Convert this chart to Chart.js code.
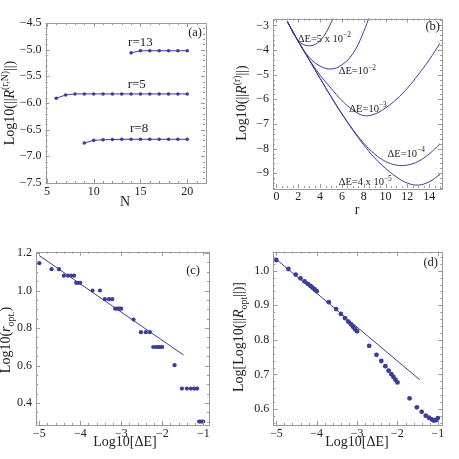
<!DOCTYPE html>
<html>
<head>
<meta charset="utf-8">
<script src="https://cdn.jsdelivr.net/npm/chart.js@4.4.0/dist/chart.umd.min.js"></script>
<style>
  html, body { margin: 0; padding: 0; background: #fff; }
  #wrap { position: relative; width: 459px; height: 459px; }
  canvas { position: absolute; }
</style>
</head>
<body>
<div id="wrap">
  <canvas id="ca" width="229" height="229" style="left:0;top:0"></canvas>
  <canvas id="cb" width="230" height="229" style="left:229px;top:0"></canvas>
  <canvas id="cc" width="229" height="230" style="left:0;top:229px"></canvas>
  <canvas id="cd" width="230" height="230" style="left:229px;top:229px"></canvas>
</div>
<script>
// (a) Log10(||R^(r,N)||) vs N
const nR13 = [14, 15, 16, 17, 18, 19, 20]
const valR13 = [-5.06, -5.02, -5.02, -5.02, -5.02, -5.02, -5.02]
const nR5 = [6, 7, 8, 9, 10, 11, 12, 13, 14, 15, 16, 17, 18, 19, 20]
const valR5 = [-5.91, -5.85, -5.83, -5.83, -5.83, -5.83, -5.83, -5.83, -5.83, -5.83, -5.83, -5.83, -5.83, -5.83, -5.83]
const nR8 = [9, 10, 11, 12, 13, 14, 15, 16, 17, 18, 19, 20]
const valR8 = [-6.75, -6.70, -6.69, -6.685, -6.68, -6.68, -6.68, -6.68, -6.68, -6.68, -6.68, -6.68]

// (b) Log10(||R^(r)||) vs r, one curve per dE
const rVals = [1, 2, 3, 4, 5, 6, 7, 8, 9, 10, 11, 12, 13, 14, 15]
const curve5e2 = [-2.85, -3.62, -3.83, -3.62, -2.9, -1.8]
const curve1e2 = [-2.85, -3.64, -4.3, -4.65, -4.77, -4.6, -4.15, -3.25, -2.0]
const curve1e3 = [-2.85, -3.65, -4.38, -5.02, -5.55, -6.05, -6.43, -6.66, -6.6, -6.35, -6.0, -5.55, -5.0, -4.4, -3.72]
const curve1e4 = [-2.85, -3.65, -4.4, -5.15, -5.88, -6.58, -7.22, -7.78, -8.22, -8.52, -8.67, -8.67, -8.52, -8.22, -7.8]
const curve4e5 = [-2.85, -3.65, -4.4, -5.15, -5.9, -6.6, -7.25, -7.85, -8.38, -8.8, -9.15, -9.4, -9.48, -9.35, -9.05]

// (c), (d) shared Log10[dE] grid
const logDE = [-5, -4.7, -4.52, -4.4, -4.3, -4.22, -4.15, -4.1, -4.05, -4,
  -3.7, -3.52, -3.4, -3.3, -3.22, -3.15, -3.1, -3.05, -3,
  -2.7, -2.52, -2.4, -2.3, -2.22, -2.15, -2.1, -2.05, -2,
  -1.7, -1.52, -1.4, -1.3, -1.22, -1.15, -1.1, -1.05, -1]
const logROpt = [1.146, 1.114, 1.114, 1.079, 1.079, 1.079, 1.079, 1.041, 1.041, 1.041,
  1.0, 1.0, 0.954, 0.954, 0.954, 0.903, 0.903, 0.903, 0.903,
  0.845, 0.778, 0.778, 0.778, 0.699, 0.699, 0.699, 0.699, 0.699,
  0.602, 0.477, 0.477, 0.477, 0.477, 0.477, 0.301, 0.301, 0.301]
const logLogR = [1.031, 1.005, 0.989, 0.978, 0.969, 0.962, 0.956, 0.951, 0.946, 0.941,
  0.909, 0.889, 0.875, 0.863, 0.853, 0.845, 0.838, 0.831, 0.825,
  0.783, 0.757, 0.739, 0.724, 0.711, 0.701, 0.693, 0.685, 0.677,
  0.631, 0.605, 0.592, 0.581, 0.575, 0.570, 0.567, 0.568, 0.574]
const fitCX = [-5, -1.48]
const fitCY = [1.186, 0.656]
const fitDX = [-5, -1.45]
const fitDY = [1.033, 0.685]

const BLUE = '#3d3d99'
const FRAME = '#9a9a9a'
const TEXT = '#222'
const SERIF = '"Liberation Serif", "DejaVu Serif", serif'

const pts = (xs, ys) => ys.map((y, i) => ({ x: xs[i], y }))
const minus = s => String(s).replace('-', '\u2212')

// draws text made of parts, some italic / superscript / subscript
function richText(ctx, parts, x, y, size, align, rotate) {
  ctx.save()
  ctx.translate(x, y)
  if (rotate) ctx.rotate(-Math.PI / 2)
  let total = 0
  const items = parts.map(p => {
    const s = (p.sup || p.sub) ? size * 0.7 : size
    const font = (p.it ? 'italic ' : '') + s + 'px ' + SERIF
    ctx.font = font
    const w = ctx.measureText(p.t).width
    total += w
    return { t: p.t, font, w, dy: p.sup ? -size * 0.42 : (p.sub ? size * 0.28 : 0) }
  })
  let cx = align === 'center' ? -total / 2 : (align === 'right' ? -total : 0)
  ctx.fillStyle = TEXT
  ctx.textBaseline = 'alphabetic'
  ctx.textAlign = 'left'
  for (const it of items) {
    ctx.font = it.font
    ctx.fillText(it.t, cx, it.dy)
    cx += it.w
  }
  ctx.restore()
}

function drawTicks(ctx, scale, minor, major, horizontal, area) {
  const k0 = Math.ceil(scale.min / minor - 1e-6)
  const k1 = Math.floor(scale.max / minor + 1e-6)
  for (let k = k0; k <= k1; k++) {
    const v = k * minor
    const isMajor = Math.abs(v / major - Math.round(v / major)) < 1e-6
    const len = isMajor ? 4 : 2
    const p = Math.round(scale.getPixelForValue(v)) + 0.5
    ctx.beginPath()
    if (horizontal) {
      ctx.moveTo(p, area.bottom); ctx.lineTo(p, area.bottom - len)
      ctx.moveTo(p, area.top); ctx.lineTo(p, area.top + len)
    } else {
      ctx.moveTo(area.left, p); ctx.lineTo(area.left + len, p)
      ctx.moveTo(area.right, p); ctx.lineTo(area.right - len, p)
    }
    ctx.stroke()
  }
}

function framePlugin(cfg) {
  return {
    id: 'frame',
    afterDraw(chart) {
      const ctx = chart.ctx
      const a = chart.chartArea
      const xs = chart.scales.x
      const ys = chart.scales.y
      ctx.save()
      ctx.strokeStyle = FRAME
      ctx.lineWidth = 1
      ctx.strokeRect(Math.round(a.left) + 0.5, Math.round(a.top) + 0.5,
        Math.round(a.right - a.left), Math.round(a.bottom - a.top))
      drawTicks(ctx, xs, cfg.xMinor, cfg.xMajor, true, a)
      drawTicks(ctx, ys, cfg.yMinor, cfg.yMajor, false, a)
      ctx.restore()
      // titles and tags
      richText(ctx, cfg.xTitle, cfg.xTitlePos[0], cfg.xTitlePos[1], 14, 'center', false)
      richText(ctx, cfg.yTitle, cfg.yTitlePos[0], cfg.yTitlePos[1], 14, 'center', true)
      richText(ctx, [{ t: cfg.tag }], cfg.tagPos[0], cfg.tagPos[1], 12.5, 'right', false)
      for (const lab of (cfg.labels || [])) {
        richText(ctx, lab.parts, xs.getPixelForValue(lab.x), ys.getPixelForValue(lab.y),
          lab.size, lab.align, false)
      }
    }
  }
}

function makeChart(id, geom, xCfg, yCfg, datasets, cfg) {
  const canvas = document.getElementById(id)
  const W = canvas.width
  const H = canvas.height
  const tickFont = { family: SERIF, size: 12 }
  return new Chart(canvas.getContext('2d'), {
    type: 'line',
    data: { datasets },
    options: {
      responsive: false,
      animation: false,
      events: [],
      layout: { padding: { left: 0, top: geom.top, right: W - geom.right, bottom: 0 } },
      plugins: { legend: { display: false }, tooltip: { enabled: false } },
      scales: {
        x: {
          type: 'linear',
          min: xCfg.min,
          max: xCfg.max,
          grid: { display: false, drawTicks: false },
          border: { display: false },
          afterFit: s => { s.height = H - geom.bottom },
          ticks: {
            stepSize: xCfg.step,
            includeBounds: false,
            autoSkip: false,
            maxRotation: 0,
            padding: 2,
            color: TEXT,
            font: tickFont,
            callback: v => minus(xCfg.digits ? v.toFixed(xCfg.digits) : v)
          }
        },
        y: {
          type: 'linear',
          min: yCfg.min,
          max: yCfg.max,
          grid: { display: false, drawTicks: false },
          border: { display: false },
          afterFit: s => { s.width = geom.left },
          ticks: {
            stepSize: yCfg.step,
            includeBounds: false,
            autoSkip: false,
            padding: 4,
            color: TEXT,
            font: tickFont,
            callback: v => minus(yCfg.digits ? v.toFixed(yCfg.digits) : v)
          }
        }
      }
    },
    plugins: [framePlugin(cfg)]
  })
}

const joined = (data) => ({
  data, borderColor: BLUE, backgroundColor: BLUE, borderWidth: 1,
  pointRadius: 1.8, pointBorderWidth: 0, tension: 0
})
const curve = (data) => ({
  data, borderColor: BLUE, borderWidth: 1, pointRadius: 0, tension: 0.4, fill: false
})
const dots = (data, r) => ({
  data, showLine: false, backgroundColor: BLUE, borderColor: BLUE,
  pointRadius: r, pointBorderWidth: 0
})
const fit = (data) => ({
  data, borderColor: BLUE, borderWidth: 1, pointRadius: 0, tension: 0
})

// (a)
makeChart('ca', { left: 45.5, right: 205, top: 23, bottom: 183 },
  { min: 4.85, max: 21.9, step: 5 },
  { min: -7.5, max: -4.5, step: 0.5, digits: 1 },
  [joined(pts(nR13, valR13)), joined(pts(nR5, valR5)), joined(pts(nR8, valR8))],
  {
    xMinor: 1, xMajor: 5, yMinor: 0.1, yMajor: 0.5,
    xTitle: [{ t: 'N' }], xTitlePos: [125, 206],
    yTitle: [{ t: 'Log10(||' }, { t: 'R', it: true }, { t: '(r,N)', sup: true }, { t: '||)' }],
    yTitlePos: [14, 103],
    tag: '(a)', tagPos: [202, 36],
    labels: [
      { parts: [{ t: 'r=13' }], x: 15.0, y: -4.93, size: 13, align: 'center' },
      { parts: [{ t: 'r=5' }], x: 14.6, y: -5.725, size: 13, align: 'center' },
      { parts: [{ t: 'r=8' }], x: 14.85, y: -6.54, size: 13, align: 'center' }
    ]
  })

// (b)
makeChart('cb', { left: 44, right: 213, top: 18.5, bottom: 188 },
  { min: -0.32, max: 15.18, step: 2 },
  { min: -9.6, max: -2.72, step: 1 },
  [curve(pts(rVals, curve5e2)), curve(pts(rVals, curve1e2)), curve(pts(rVals, curve1e3)),
    curve(pts(rVals, curve1e4)), curve(pts(rVals, curve4e5))],
  {
    xMinor: 0.5, xMajor: 2, yMinor: 0.2, yMajor: 1,
    xTitle: [{ t: 'r' }], xTitlePos: [128, 214],
    yTitle: [{ t: 'Log10(||' }, { t: 'R', it: true }, { t: '(r)', sup: true }, { t: '||)' }],
    yTitlePos: [17, 103],
    tag: '(b)', tagPos: [211, 30],
    labels: [
      { parts: [{ t: '\u0394E=5 x 10' }, { t: '\u22122', sup: true }], x: 1.95, y: -3.66, size: 10.5, align: 'left' },
      { parts: [{ t: '\u0394E=10' }, { t: '\u22122', sup: true }], x: 5.7, y: -4.97, size: 10.5, align: 'left' },
      { parts: [{ t: '\u0394E=10' }, { t: '\u22123', sup: true }], x: 6.68, y: -6.5, size: 10.5, align: 'left' },
      { parts: [{ t: '\u0394E=10' }, { t: '\u22124', sup: true }], x: 10.18, y: -8.33, size: 10.5, align: 'left' },
      { parts: [{ t: '\u0394E=4 x 10' }, { t: '\u22125', sup: true }], x: 5.7, y: -9.48, size: 10.5, align: 'left' }
    ]
  })

// (c)
makeChart('cc', { left: 36, right: 209, top: 22.7, bottom: 196 },
  { min: -5.08, max: -0.86, step: 1 },
  { min: 0.283, max: 1.207, step: 0.2, digits: 1 },
  [dots(pts(logDE, logROpt), 2.1), fit(pts(fitCX, fitCY))],
  {
    xMinor: 0.2, xMajor: 1, yMinor: 0.05, yMajor: 0.2,
    xTitle: [{ t: 'Log10[\u0394E]' }], xTitlePos: [125, 217],
    yTitle: [{ t: 'Log10(' }, { t: 'r', it: true }, { t: 'opt.', sub: true }, { t: ')' }],
    yTitlePos: [10, 111],
    tag: '(c)', tagPos: [200, 45],
    labels: []
  })

// (d)
makeChart('cd', { left: 44.3, right: 213.3, top: 22.7, bottom: 196 },
  { min: -5.074, max: -0.89, step: 1 },
  { min: 0.554, max: 1.055, step: 0.1, digits: 1 },
  [dots(pts(logDE, logLogR), 2.4), fit(pts(fitDX, fitDY))],
  {
    xMinor: 0.2, xMajor: 1, yMinor: 0.02, yMajor: 0.1,
    xTitle: [{ t: 'Log10[\u0394E]' }], xTitlePos: [128, 217],
    yTitle: [{ t: 'Log[Log10(||' }, { t: 'R', it: true }, { t: 'opt', sub: true }, { t: '||)]' }],
    yTitlePos: [14, 108],
    tag: '(d)', tagPos: [209, 37],
    labels: []
  })
</script>
</body>
</html>
